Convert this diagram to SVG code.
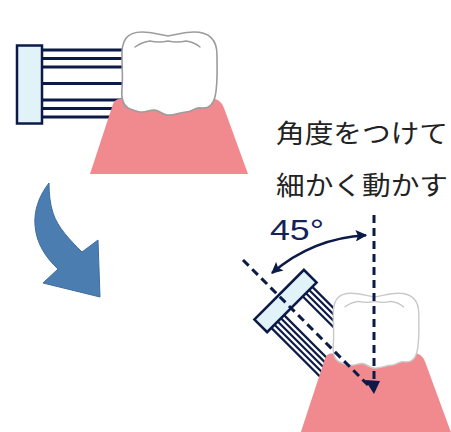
<svg xmlns="http://www.w3.org/2000/svg" xmlns:xlink="http://www.w3.org/1999/xlink" width="451" height="432" viewBox="0 0 451 432">
  <style>
    .head { fill: #e2f2f9; stroke: #0b1a47; stroke-width: 2.5; }
    .bristle { stroke: #0b1a47; stroke-width: 2.8; fill: none; }
    .bristle-thin { stroke: #0b1a47; stroke-width: 2.2; fill: none; }
    .gum { fill: #f18a8f; }
    .crown { fill: #ffffff; stroke-width: 1.6; stroke-linejoin: round; }
    .fissure { fill: none; stroke-width: 1.4; stroke-linecap: round; }
    .guide { stroke: #0b1a47; stroke-width: 3; stroke-dasharray: 8 5; fill: none; }
    .angle { stroke: #0b1a47; stroke-width: 2.5; fill: none; }
    .caption { font-family: "Noto Sans CJK JP", "Noto Sans", sans-serif; font-size: 26px; fill: #222222; }
    .degree { font-family: "Liberation Sans", Arial, sans-serif; font-size: 30px; fill: #13235a; }
    .turn { fill: #4b7db1; stroke: #3f6e9f; stroke-width: 1; stroke-linejoin: round; }
  </style>
  <defs>
    <!-- molar crown drawn in unit coordinates of the upper picture -->
    <path id="crown-shape" d="M 122,58 C 121,40 127,32 142,32 C 152,32 160,35 168,36 C 176,35 184,32 194,32 C 208,32 217,38 217,55 C 217,70 218,85 215,97 C 213,105 208,109 201,108 C 195,107 192,112 186,112 C 180,112 174,116 167,115 C 161,114 159,110 154,110 C 149,110 147,112 142,112 C 137,112 133,110 128,108 C 123,105 121,98 122,88 C 123,78 122,68 122,58 Z"/>
    <path id="fissure-shape" d="M 135,47 Q 142,42 150,41 Q 159,43 168,41 Q 177,43 186,41 Q 194,42 200,47"/>
    <marker id="tip" viewBox="0 0 10 10" refX="9" refY="5" markerWidth="4.6" markerHeight="4.6" orient="auto-start-reverse">
      <path d="M 0,0 L 10,5 L 0,10 L 2,5 Z" fill="#0b1a47"/>
    </marker>
  </defs>

  <!-- brush held straight against the tooth -->
  <g id="brush-straight">
    <line class="bristle" x1="42" y1="50" x2="126" y2="50"/>
    <line class="bristle" x1="42" y1="58.5" x2="126" y2="58.5"/>
    <line class="bristle" x1="42" y1="67" x2="126" y2="67"/>
    <line class="bristle" x1="42" y1="83.5" x2="126" y2="83.5"/>
    <line class="bristle" x1="42" y1="100" x2="126" y2="100"/>
    <line class="bristle" x1="42" y1="108.5" x2="126" y2="108.5"/>
    <line class="bristle" x1="42" y1="117" x2="126" y2="117"/>
    <rect class="head" x="17" y="45.5" width="25" height="78"/>
  </g>

  <g id="tooth-straight">
    <path class="gum" d="M 90,174 L 113,104 Q 115,99 120,99 L 208,98 Q 220,97 224,108 L 248,174 Z"/>
    <use xlink:href="#crown-shape" class="crown" stroke="#9c9c9c"/>
    <use xlink:href="#fissure-shape" class="fissure" stroke="#9c9c9c"/>
  </g>

  <!-- curved turn arrow -->
  <g id="turn-arrow">
    <path class="turn" d="M 49,183 C 38,197 34,212 35,225 C 36,243 46,258 58,269 L 43,283 L 100,297 L 98,240 L 82,252 C 70,240 58,228 53,213 C 50,204 49,193 49,183 Z"/>
  </g>

  <g id="caption">
    <text class="caption" x="276" y="143" textLength="172" lengthAdjust="spacingAndGlyphs">角度をつけて</text>
    <text class="caption" x="276" y="195" textLength="172" lengthAdjust="spacingAndGlyphs">細かく動かす</text>
  </g>

  <!-- brush tilted by 45 degrees -->
  <g id="brush-angled" transform="translate(285.5,301) rotate(45)">
    <line class="bristle-thin" x1="9" y1="-29" x2="95" y2="-29"/>
    <line class="bristle-thin" x1="9" y1="-24.5" x2="95" y2="-24.5"/>
    <line class="bristle-thin" x1="9" y1="-20" x2="95" y2="-20"/>
    <line class="bristle-thin" x1="9" y1="-15.5" x2="95" y2="-15.5"/>
    <line class="bristle-thin" x1="9" y1="11" x2="95" y2="11"/>
    <line class="bristle-thin" x1="9" y1="15.5" x2="95" y2="15.5"/>
    <line class="bristle-thin" x1="9" y1="20" x2="95" y2="20"/>
    <line class="bristle-thin" x1="9" y1="24.5" x2="95" y2="24.5"/>
    <line class="bristle-thin" x1="9" y1="29" x2="95" y2="29"/>
    <rect class="head" x="-9" y="-35" width="18" height="70"/>
  </g>

  <g id="tooth-angled" transform="translate(223.5,264.5) scale(0.9)">
    <path class="gum" d="M 84.7,190 L 113,104 Q 115,99 120,99 L 208,98 Q 220,97 224,108 L 254,190 Z"/>
    <use xlink:href="#crown-shape" class="crown" stroke="#cacaca"/>
    <use xlink:href="#fissure-shape" class="fissure" stroke="#c4c4c4"/>
  </g>

  <!-- guide lines and the 45 degree angle -->
  <g id="guides">
    <line class="guide" x1="374" y1="215" x2="374" y2="383"/>
    <line class="guide" x1="243" y1="260" x2="368" y2="385"/>
    <polygon points="365,380 380,381 374,394" fill="#0b1a47"/>
    <path class="angle" d="M 366,235.2 A 157 157 0 0 0 272,273" marker-start="url(#tip)" marker-end="url(#tip)"/>
    <text class="degree" x="270" y="240" textLength="54" lengthAdjust="spacingAndGlyphs">45°</text>
  </g>
</svg>
